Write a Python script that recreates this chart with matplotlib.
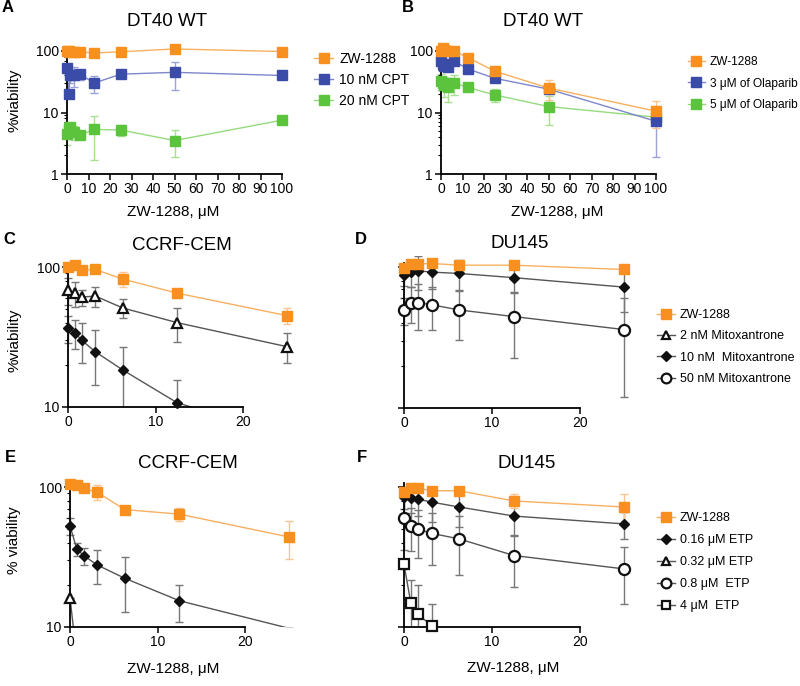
import numpy as np
import matplotlib.pyplot as plt
from matplotlib.lines import Line2D
from matplotlib.ticker import FixedLocator, LogLocator, NullFormatter

plt.rcParams['font.family'] = ['Liberation Sans', 'DejaVu Sans']

W, H = 800, 686

# ---- data ----
x_ab = [0, 0.78, 1.56, 3.125, 6.25, 12.5, 25, 50, 100]
x_cf = [0, 0.78, 1.56, 3.125, 6.25, 12.5, 25]

a_zw = [100, 99, 97, 95, 97, 93, 97, 108, 98]
a_zw_sd = [5, 5, 5, 5, 5, 5, 5, 5, 5]
a_cpt10 = [52, 20, 40, 40, 42, 30, 42, 45, 40]
a_cpt10_sd = [8, 3, 10, 14, 8, 9, 4, 22, 5]
a_cpt20 = [4.5, 5.5, 5.8, 4.8, 4.3, 5.3, 5.2, 3.5, 7.5]
a_cpt20_sd = [1.5, 1.0, 1.0, 1.2, 0.5, 3.6, 1.0, 1.6, 0.3]

b_zw = [100, 110, 105, 100, 100, 78, 47, 25, 10.5]
b_zw_sd = [8, 10, 8, 8, 8, 11, 7, 9, 5]
b_ola3 = [70, 62, 58, 55, 68, 51, 36, 24, 7.2]
b_ola3_sd = [12, 10, 10, 8, 8, 4, 3, 3, 5.3]
b_ola5 = [33, 30, 28, 26, 30, 25.6, 19.3, 12.5, 8.4]
b_ola5_sd = [10, 8, 10, 11, 11, 3, 4.5, 6.3, 1]

c_zw = [100, 103, 95, 96, 82, 65, 45]
c_zw_sd = [5, 5, 5, 5, 10, 5, 6]
c_mx2 = [68.5, 65, 61, 62, 51, 40, 27]
c_mx2_sd = [15, 13, 8, 10, 8, 11, 6.5]
c_mx10 = [36.8, 34, 30, 24.8, 18.4, 10.7, 6.3]
c_mx10_sd = [8, 8, 9.5, 10.5, 8.5, 4.8, 3]

d_zw = [98, 105, 105, 106, 103, 103, 96]
d_zw_sd = [3, 3, 3, 3, 3, 3, 3]
d_mx10 = [88, 92, 94, 92, 90, 84, 72]
d_mx10_sd = [15, 20, 25, 22, 22, 19, 24]
d_mx50 = [49.6, 56, 56, 54, 49.6, 44.5, 36]
d_mx50_sd = [11, 16, 20, 18, 19, 22, 24]

e_zw = [104.7, 103, 98, 91.6, 69, 64, 44]
e_zw_sd = [4, 4, 4, 11, 3, 7, 13.5]
e_etp016 = [52.7, 36, 32.4, 27.7, 22.3, 15.4, 9.8]
e_etp016_sd = [7.5, 4, 4.5, 7.5, 9.5, 4.5, 0]
e_etp032_x = [0, 0.78, 1.56]
e_etp032 = [16.2, 6.0, 4.0]
e_etp032_sd = [0, 0, 0]

f_zw = [92.7, 98, 98, 94, 94, 79.5, 72]
f_zw_sd = [6, 5, 5, 6, 5, 9, 17]
f_etp016 = [85, 83, 82, 78, 72, 62, 54.5]
f_etp016_sd = [15, 18, 20, 22, 20, 17, 12]
f_etp08 = [60.4, 53, 50, 46.7, 42.6, 32.4, 26]
f_etp08_sd = [25, 18, 19, 19, 19, 13, 11.5]
f_etp4_x = [0, 0.78, 1.56, 3.125]
f_etp4 = [28, 14.8, 12.4, 10.2]
f_etp4_sd = [2, 7, 7.5, 4.3]

ORANGE, ORANGE_LN, ORANGE_ER = '#F7901E', '#F8B060', '#F9C490'
BLUE, BLUE_LN, BLUE_ER = '#3B4BA8', '#7D87CC', '#9AA2D8'
GREEN, GREEN_LN, GREEN_ER = '#5CC43C', '#96DA7E', '#A8E093'
BLK, BLK_LN, BLK_ER = '#111111', '#555555', '#777777'

STYLE = {
    'zw': dict(color=ORANGE, lc=ORANGE_LN, ec=ORANGE_ER, marker='s'),
    'blue': dict(color=BLUE, lc=BLUE_LN, ec=BLUE_ER, marker='s'),
    'green': dict(color=GREEN, lc=GREEN_LN, ec=GREEN_ER, marker='s'),
    'tri': dict(color=BLK, lc=BLK_LN, ec=BLK_ER, marker='^', mfc='white', mew=1.6),
    'dia': dict(color=BLK, lc=BLK_LN, ec=BLK_ER, marker='D'),
    'circ': dict(color=BLK, lc=BLK_LN, ec=BLK_ER, marker='o', mfc='white', mew=1.6),
    'sq': dict(color=BLK, lc=BLK_LN, ec=BLK_ER, marker='s', mfc='white', mew=1.6),
}


def make_axes(fig, xpix, xdat, ypix, ydat, xlim, ylim, ybound, xticks, yticks):
    sx = (xpix[1] - xpix[0]) / (xdat[1] - xdat[0])
    left = xpix[0] + (xlim[0] - xdat[0]) * sx
    right = xpix[0] + (xlim[1] - xdat[0]) * sx
    sy = (ypix[1] - ypix[0]) / (np.log10(ydat[1]) - np.log10(ydat[0]))
    bot = ypix[0] + (np.log10(ylim[0]) - np.log10(ydat[0])) * sy
    top = ypix[0] + (np.log10(ylim[1]) - np.log10(ydat[0])) * sy
    ax = fig.add_axes([left / W, 1 - bot / H, (right - left) / W, (bot - top) / H])
    ax.set_yscale('log')
    ax.set_xlim(xlim)
    ax.set_ylim(ylim)
    for s in ('top', 'right'):
        ax.spines[s].set_visible(False)
    ax.spines['left'].set_position(('data', 0))
    ax.spines['left'].set_bounds(ylim[0], ybound)
    ax.spines['bottom'].set_bounds(0, xticks[-1])
    for s in ('left', 'bottom'):
        ax.spines[s].set_linewidth(1.3)
    ax.xaxis.set_major_locator(FixedLocator(xticks))
    ax.set_xticklabels([str(t) for t in xticks])
    ax.yaxis.set_major_locator(FixedLocator(yticks))
    ax.set_yticklabels([str(t) for t in yticks])
    ax.yaxis.set_minor_locator(LogLocator(subs=np.arange(2, 10)))
    ax.yaxis.set_minor_formatter(NullFormatter())
    ax.tick_params(which='major', direction='out', length=4, width=1.1, labelsize=10, pad=2)
    ax.tick_params(which='minor', direction='out', length=2, width=0.8)
    return ax


def draw(ax, x, y, sd, key, ms):
    st = STYLE[key]
    x = np.asarray(x, float)
    y = np.asarray(y, float)
    sd = np.asarray(sd, float)
    ax.plot(x, y, '-', color=st['lc'], lw=1.0, zorder=2)
    lo = np.minimum(sd, y * 0.9)
    ax.errorbar(x, y, yerr=[lo, sd], fmt='none', ecolor=st['ec'], elinewidth=1.0,
                capsize=3, capthick=1.0, zorder=1)
    keep = y >= ax.get_ylim()[0]
    ax.plot(x[keep], y[keep], ls='none', marker=st['marker'], ms=ms,
            mfc=st.get('mfc', st['color']), mec=st['color'], mew=st.get('mew', 1.0),
            clip_on=False, zorder=3)


def handle(key, ms):
    st = STYLE[key]
    return Line2D([], [], color=st['lc'], lw=1.0, marker=st['marker'], ms=ms,
                  mfc=st.get('mfc', st['color']), mec=st['color'], mew=st.get('mew', 1.0))


def legend(fig, handles, labels, x, y, size=10, spacing=0.5):
    fig.legend(handles, labels, loc='upper left', bbox_to_anchor=(x / W, 1 - y / H),
               frameon=False, fontsize=size, handlelength=1.4, handletextpad=0.4,
               labelspacing=spacing, borderpad=0, borderaxespad=0)


def ftext(x, y, s, **kw):
    fig.text(x / W, 1 - y / H, s, ha='center', va='center', **kw)


fig = plt.figure(figsize=(W / 100, H / 100), dpi=100)

# A
ax = make_axes(fig, (67, 282), (0, 100), (174, 51), (1, 100), (-5, 104), (1, 135), 118,
               list(range(0, 101, 10)), [1, 10, 100])
draw(ax, x_ab, a_cpt20, a_cpt20_sd, 'green', 7)
draw(ax, x_ab, a_cpt10, a_cpt10_sd, 'blue', 7)
draw(ax, x_ab, a_zw, a_zw_sd, 'zw', 7)
legend(fig, [handle('zw', 7), handle('blue', 7), handle('green', 7)],
       ['ZW-1288', '10 nM CPT', '20 nM CPT'], 314, 52)

# B
ax = make_axes(fig, (441, 656), (0, 100), (174, 51), (1, 100), (-5, 104), (1, 135), 118,
               list(range(0, 101, 10)), [1, 10, 100])
draw(ax, x_ab, b_ola5, b_ola5_sd, 'green', 7)
draw(ax, x_ab, b_ola3, b_ola3_sd, 'blue', 7)
draw(ax, x_ab, b_zw, b_zw_sd, 'zw', 7)
legend(fig, [handle('zw', 7), handle('blue', 7), handle('green', 7)],
       ['ZW-1288', '3 \u03bcM of Olaparib', '5 \u03bcM of Olaparib'], 688, 56, size=8.6, spacing=0.8)

# C
ax = make_axes(fig, (68, 243), (0, 20), (407, 267), (10, 100), (-1.3, 26), (10, 120), 106,
               [0, 10, 20], [10, 100])
draw(ax, x_cf, c_mx10, c_mx10_sd, 'dia', 5)
draw(ax, x_cf, c_mx2, c_mx2_sd, 'tri', 7)
draw(ax, x_cf, c_zw, c_zw_sd, 'zw', 6.5)

# D
ax = make_axes(fig, (404, 580), (0, 20), (408, 267), (10, 100), (-1.3, 26), (10, 120), 106,
               [0, 10, 20], [10, 100])
ax.set_yticklabels(['', ''])
draw(ax, x_cf, d_mx50, d_mx50_sd, 'circ', 8)
draw(ax, x_cf, d_mx10, d_mx10_sd, 'dia', 5)
draw(ax, x_cf, d_zw, d_zw_sd, 'zw', 6.5)
legend(fig, [handle('zw', 6.5), handle('tri', 6), handle('dia', 5), handle('circ', 7)],
       ['ZW-1288', '2 nM Mitoxantrone', '10 nM  Mitoxantrone', '50 nM Mitoxantrone'],
       657, 309, size=9, spacing=0.75)

# E
ax = make_axes(fig, (70, 245), (0, 20), (627, 487), (10, 100), (-1.3, 26), (10, 120), 106,
               [0, 10, 20], [10, 100])
draw(ax, e_etp032_x, e_etp032, e_etp032_sd, 'tri', 7)
draw(ax, x_cf, e_etp016, e_etp016_sd, 'dia', 5)
draw(ax, x_cf, e_zw, e_zw_sd, 'zw', 6.5)

# F
ax = make_axes(fig, (404, 580), (0, 20), (627, 487), (10, 100), (-1.3, 26), (10, 120), 106,
               [0, 10, 20], [10, 100])
ax.set_yticklabels(['', ''])
draw(ax, f_etp4_x, f_etp4, f_etp4_sd, 'sq', 7)
draw(ax, x_cf, f_etp08, f_etp08_sd, 'circ', 8)
draw(ax, x_cf, f_etp016, f_etp016_sd, 'dia', 5)
draw(ax, x_cf, f_zw, f_zw_sd, 'zw', 6.5)
legend(fig, [handle('zw', 6.5), handle('dia', 5), handle('tri', 6), handle('circ', 7), handle('sq', 6)],
       ['ZW-1288', '0.16 \u03bcM ETP', '0.32 \u03bcM ETP', '0.8 \u03bcM  ETP', '4 \u03bcM  ETP'],
       657, 512, size=9, spacing=0.8)

# titles, labels, panel letters
for x, y, s in [(167, 22, 'DT40 WT'), (543, 22, 'DT40 WT'), (182, 245, 'CCRF-CEM'),
                (520, 243, 'DU145'), (188, 463, 'CCRF-CEM'), (527, 463, 'DU145')]:
    ftext(x, y, s, fontsize=13.5)
for x, y, s in [(8, 8, 'A'), (408, 8, 'B'), (9, 239, 'C'), (361, 239, 'D'),
                (10, 457, 'E'), (362, 457, 'F')]:
    ftext(x, y, s, fontsize=12, fontweight='bold')
for x, y in [(173, 212), (557, 212), (173, 669), (513, 668)]:
    ftext(x, y, 'ZW-1288, \u03bcM', fontsize=11)
ftext(15, 100, '%viability', fontsize=11, rotation=90)
ftext(14, 340, '%viability', fontsize=11, rotation=90)
ftext(14, 540, '% viability', fontsize=11, rotation=90)

fig.savefig('out.png', dpi=100)
